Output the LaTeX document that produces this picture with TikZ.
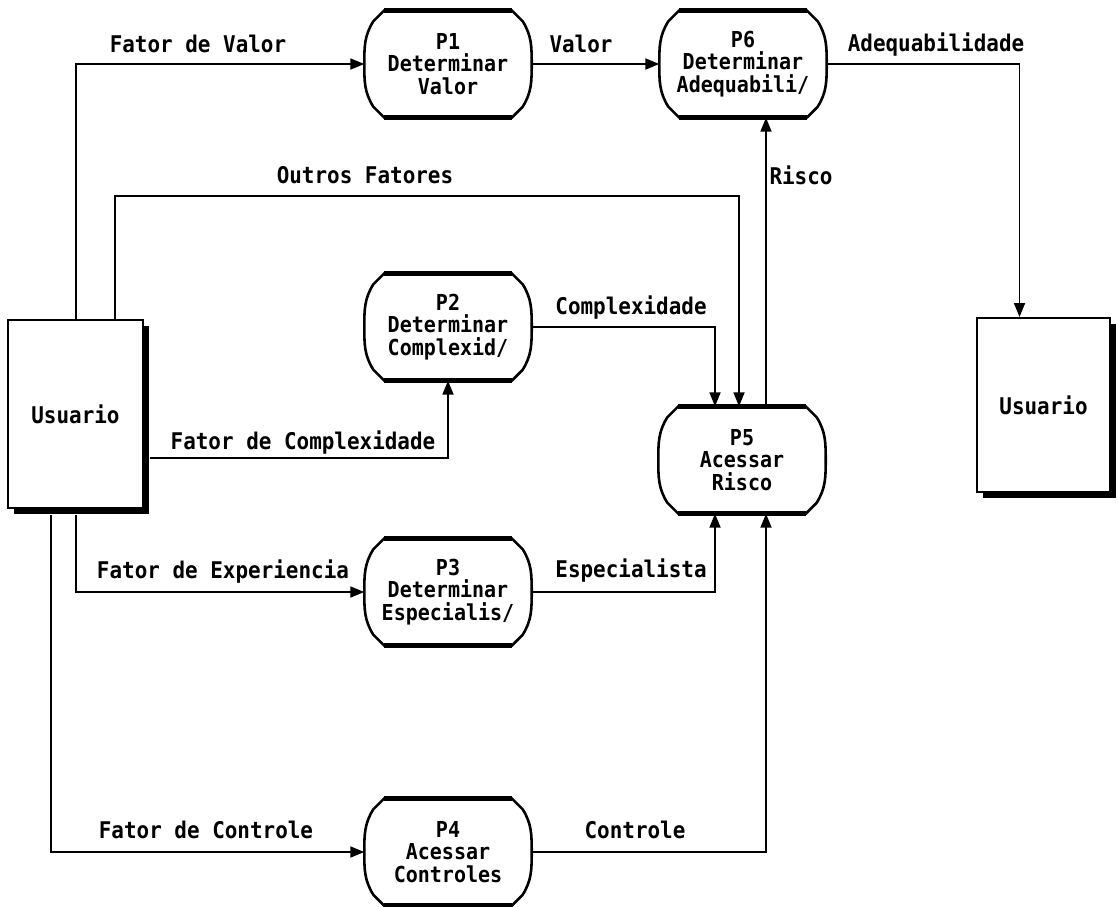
\documentclass[tikz,border=0pt]{standalone}
\usepackage{fontspec}
\setmonofont[FakeStretch=0.91]{DejaVu Sans Mono}
\usetikzlibrary{arrows.meta,calc,shadows}
\begin{document}
\begin{tikzpicture}[x=1pt,y=1pt,
  txt/.style={font=\ttfamily\bfseries\fontsize{23}{20}\selectfont},
  lbl/.style={txt, inner sep=0, text height=16pt, text depth=0pt},
  proc/.style={font=\ttfamily\bfseries\fontsize{22}{22.5}\selectfont, minimum width=167pt, minimum height=107pt, inner sep=0, align=center},
  user/.style={txt, minimum width=135pt, minimum height=188pt, draw, line width=2pt, fill=white, inner sep=0,
    drop shadow={shadow xshift=6pt, shadow yshift=-6pt, opacity=1, fill=black}},
  flow/.style={line width=1.8pt, -{Triangle[length=14pt,width=11pt]}},
  procline/.style={line width=2.6pt, line join=round},
  edgeline/.style={line width=4.5pt}
]
\useasboundingbox (0,0) rectangle (1118,-906);
\fill[white] (0,0) rectangle (1118,-906);

% entities
\node[user] (U1) at (75.5,-414) {Usuario};
\node[user, minimum height=174pt, minimum width=133pt] (U2) at (1043.5,-405) {Usuario};

% processes
\node[proc] (P1) at (448,-64) {P1\\Determinar\\Valor};
\node[proc] (P6) at (743,-64) {P6\\Determinar\\Adequabili/};
\node[proc] (P2) at (448,-327) {P2\\Determinar\\Complexid/};
\node[proc] (P5) at (742,-460) {P5\\Acessar\\Risco};
\node[proc] (P3) at (448,-592) {P3\\Determinar\\Especialis/};
\node[proc] (P4) at (448,-852) {P4\\Acessar\\Controles};

\foreach \n in {P1,P2,P3,P4,P5,P6}{
  \draw[procline] ($(\n.north west)+(20,0)$) -- ($(\n.north east)+(-20,0)$)
    -- ($(\n.north east)+(-9,-11)$) to[out=-58,in=90] (\n.east)
    to[out=-90,in=58] ($(\n.south east)+(-9,11)$) -- ($(\n.south east)+(-20,0)$)
    -- ($(\n.south west)+(20,0)$) -- ($(\n.south west)+(9,11)$)
    to[out=122,in=-90] (\n.west) to[out=90,in=-122] ($(\n.north west)+(9,-11)$) -- cycle;
  \draw[edgeline] ($(\n.north west)+(20,0)$) -- ($(\n.north east)+(-20,0)$);
  \draw[edgeline] ($(\n.south west)+(20,0)$) -- ($(\n.south east)+(-20,0)$);
}

% bends
\coordinate (bOF) at (739,-196);

% connectors
\draw[flow] ([xshift=69pt]U1.north west) |- (P1.west);
\draw[flow] ([xshift=108pt]U1.north west) |- (bOF) -- ([xshift=-3pt]P5.north);
\draw[flow] ([xshift=6pt,yshift=-44pt]U1.east) -| (P2.south);
\draw[flow] ([xshift=69pt,yshift=-6pt]U1.south west) |- (P3.west);
\draw[flow] ([xshift=44pt,yshift=-6pt]U1.south west) |- (P4.west);
\draw[flow] (P1.east) -- (P6.west);
\draw[flow] (P6.east) -| ([xshift=-24pt]U2.north);
\draw[flow] ([xshift=24pt]P5.north) -- ([xshift=24pt]P5.north |- P6.south);
\draw[flow] (P2.east) -| ([xshift=-27pt]P5.north);
\draw[flow] (P3.east) -| ([xshift=-27pt]P5.south);
\draw[flow] (P4.east) -| ([xshift=24pt]P5.south);

% labels
\node[lbl] (lFV) at (198,-44) {Fator de Valor};
\node[lbl] (lV) at (581,-44) {Valor};
\node[lbl] (lA) at (936,-43) {Adequabilidade};
\node[lbl] (lOF) at (365,-175) {Outros Fatores};
\node[lbl] (lR) at (801,-176) {Risco};
\node[lbl] (lC) at (631,-306) {Complexidade};
\node[lbl] (lFC) at (303,-441) {Fator de Complexidade};
\node[lbl] (lFE) at (223,-570) {Fator de Experiencia};
\node[lbl] (lE) at (631,-569) {Especialista};
\node[lbl] (lFCo) at (206,-830) {Fator de Controle};
\node[lbl] (lCo) at (635,-830) {Controle};
\end{tikzpicture}
\end{document}
